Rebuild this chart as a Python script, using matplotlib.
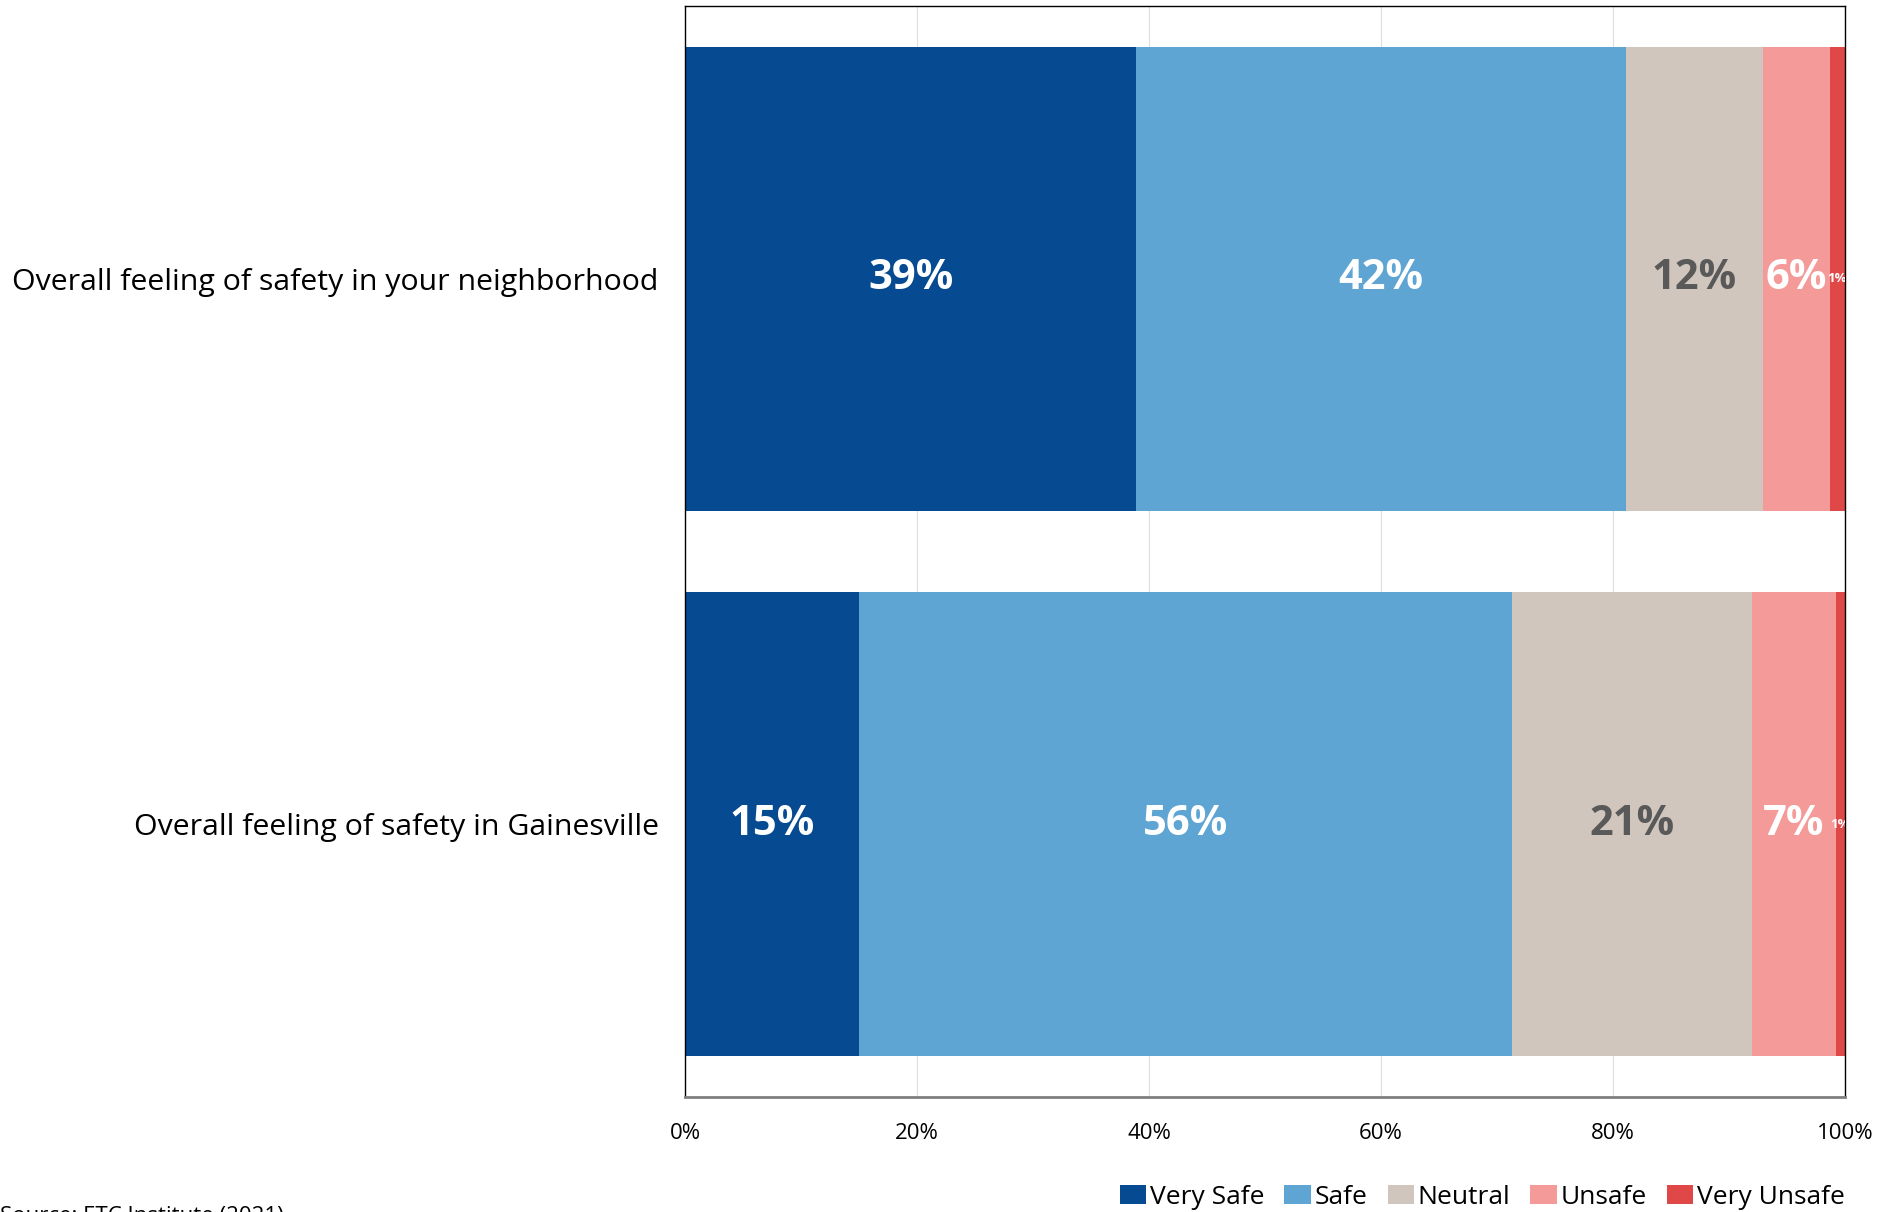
import matplotlib
matplotlib.use("Agg")
import matplotlib.pyplot as plt
from matplotlib.ticker import FixedLocator, FuncFormatter
import numpy as np

# Survey data (percent of respondents)
categories = [
    "Overall feeling of safety in your neighborhood",
    "Overall feeling of safety in Gainesville",
]
series_names = ["Very Safe", "Safe", "Neutral", "Unsafe", "Very Unsafe"]
very_safe = [38.9, 15.0]
safe = [42.2, 56.3]
neutral = [11.8, 20.7]
unsafe = [5.8, 7.2]
very_unsafe = [1.3, 0.8]
tick_values = [0, 20, 40, 60, 80, 100]
source_note = "Source: ETC Institute (2021)"

colors = ["#064A91", "#5FA5D3", "#D0C6BD", "#F49A99", "#E04848"]
label_colors = ["white", "white", "#595959", "white", "white"]

plt.rcParams["font.family"] = ["Open Sans", "DejaVu Sans"]

W, H, DPI = 1900, 1212, 100
AX_L, AX_R, AX_T, AX_B = 685, 1845, 6, 1097
fig = plt.figure(figsize=(W / DPI, H / DPI), dpi=DPI)
ax = fig.add_axes([AX_L / W, 1 - AX_B / H, (AX_R - AX_L) / W, (AX_B - AX_T) / H])

series = [very_safe, safe, neutral, unsafe, very_unsafe]
y = np.arange(len(categories))
left = np.zeros(len(categories))
for name, vals, col, lcol in zip(series_names, series, colors, label_colors):
    vals = np.array(vals)
    ax.barh(y, vals, left=left, height=0.85, color=col, label=name, zorder=2)
    for yi, v, l in zip(y, vals, left):
        big = v >= 3
        ax.text(l + v / 2, yi, f"{v:.0f}%", ha="center", va="center",
                color=lcol, fontweight="bold",
                fontsize=30 if big else 9.5, zorder=3, clip_on=True)
    left = left + vals

ax.set_xlim(0, 100)
ax.set_ylim(len(categories) - 0.5, -0.5)
ax.set_yticks(y)
ax.set_yticklabels(categories, fontsize=21.8)
ax.xaxis.set_major_locator(FixedLocator(tick_values))
ax.xaxis.set_major_formatter(FuncFormatter(lambda v, p: f"{v:.0f}%"))
ax.tick_params(axis="x", length=0, pad=19, labelsize=16)
ax.tick_params(axis="y", length=0, pad=19)
ax.grid(axis="x", color="#DDDDDD", linewidth=0.8, zorder=0)
ax.set_axisbelow(True)

for s in ["top", "left", "right"]:
    ax.spines[s].set_color("black")
    ax.spines[s].set_linewidth(1.0)
ax.spines["bottom"].set_color("#7F7F7F")
ax.spines["bottom"].set_linewidth(2.0)

fig.legend(loc="center right", bbox_to_anchor=(AX_R / W, 1 - 1197 / H),
           ncol=5, frameon=False, fontsize=19, handlelength=1.0,
           handleheight=0.72, handletextpad=0.15, columnspacing=0.75,
           borderpad=0, borderaxespad=0)

fig.text(0.0, 1 - 1206 / H, source_note, ha="left", va="top", fontsize=16)

fig.savefig("out.png", dpi=DPI)
